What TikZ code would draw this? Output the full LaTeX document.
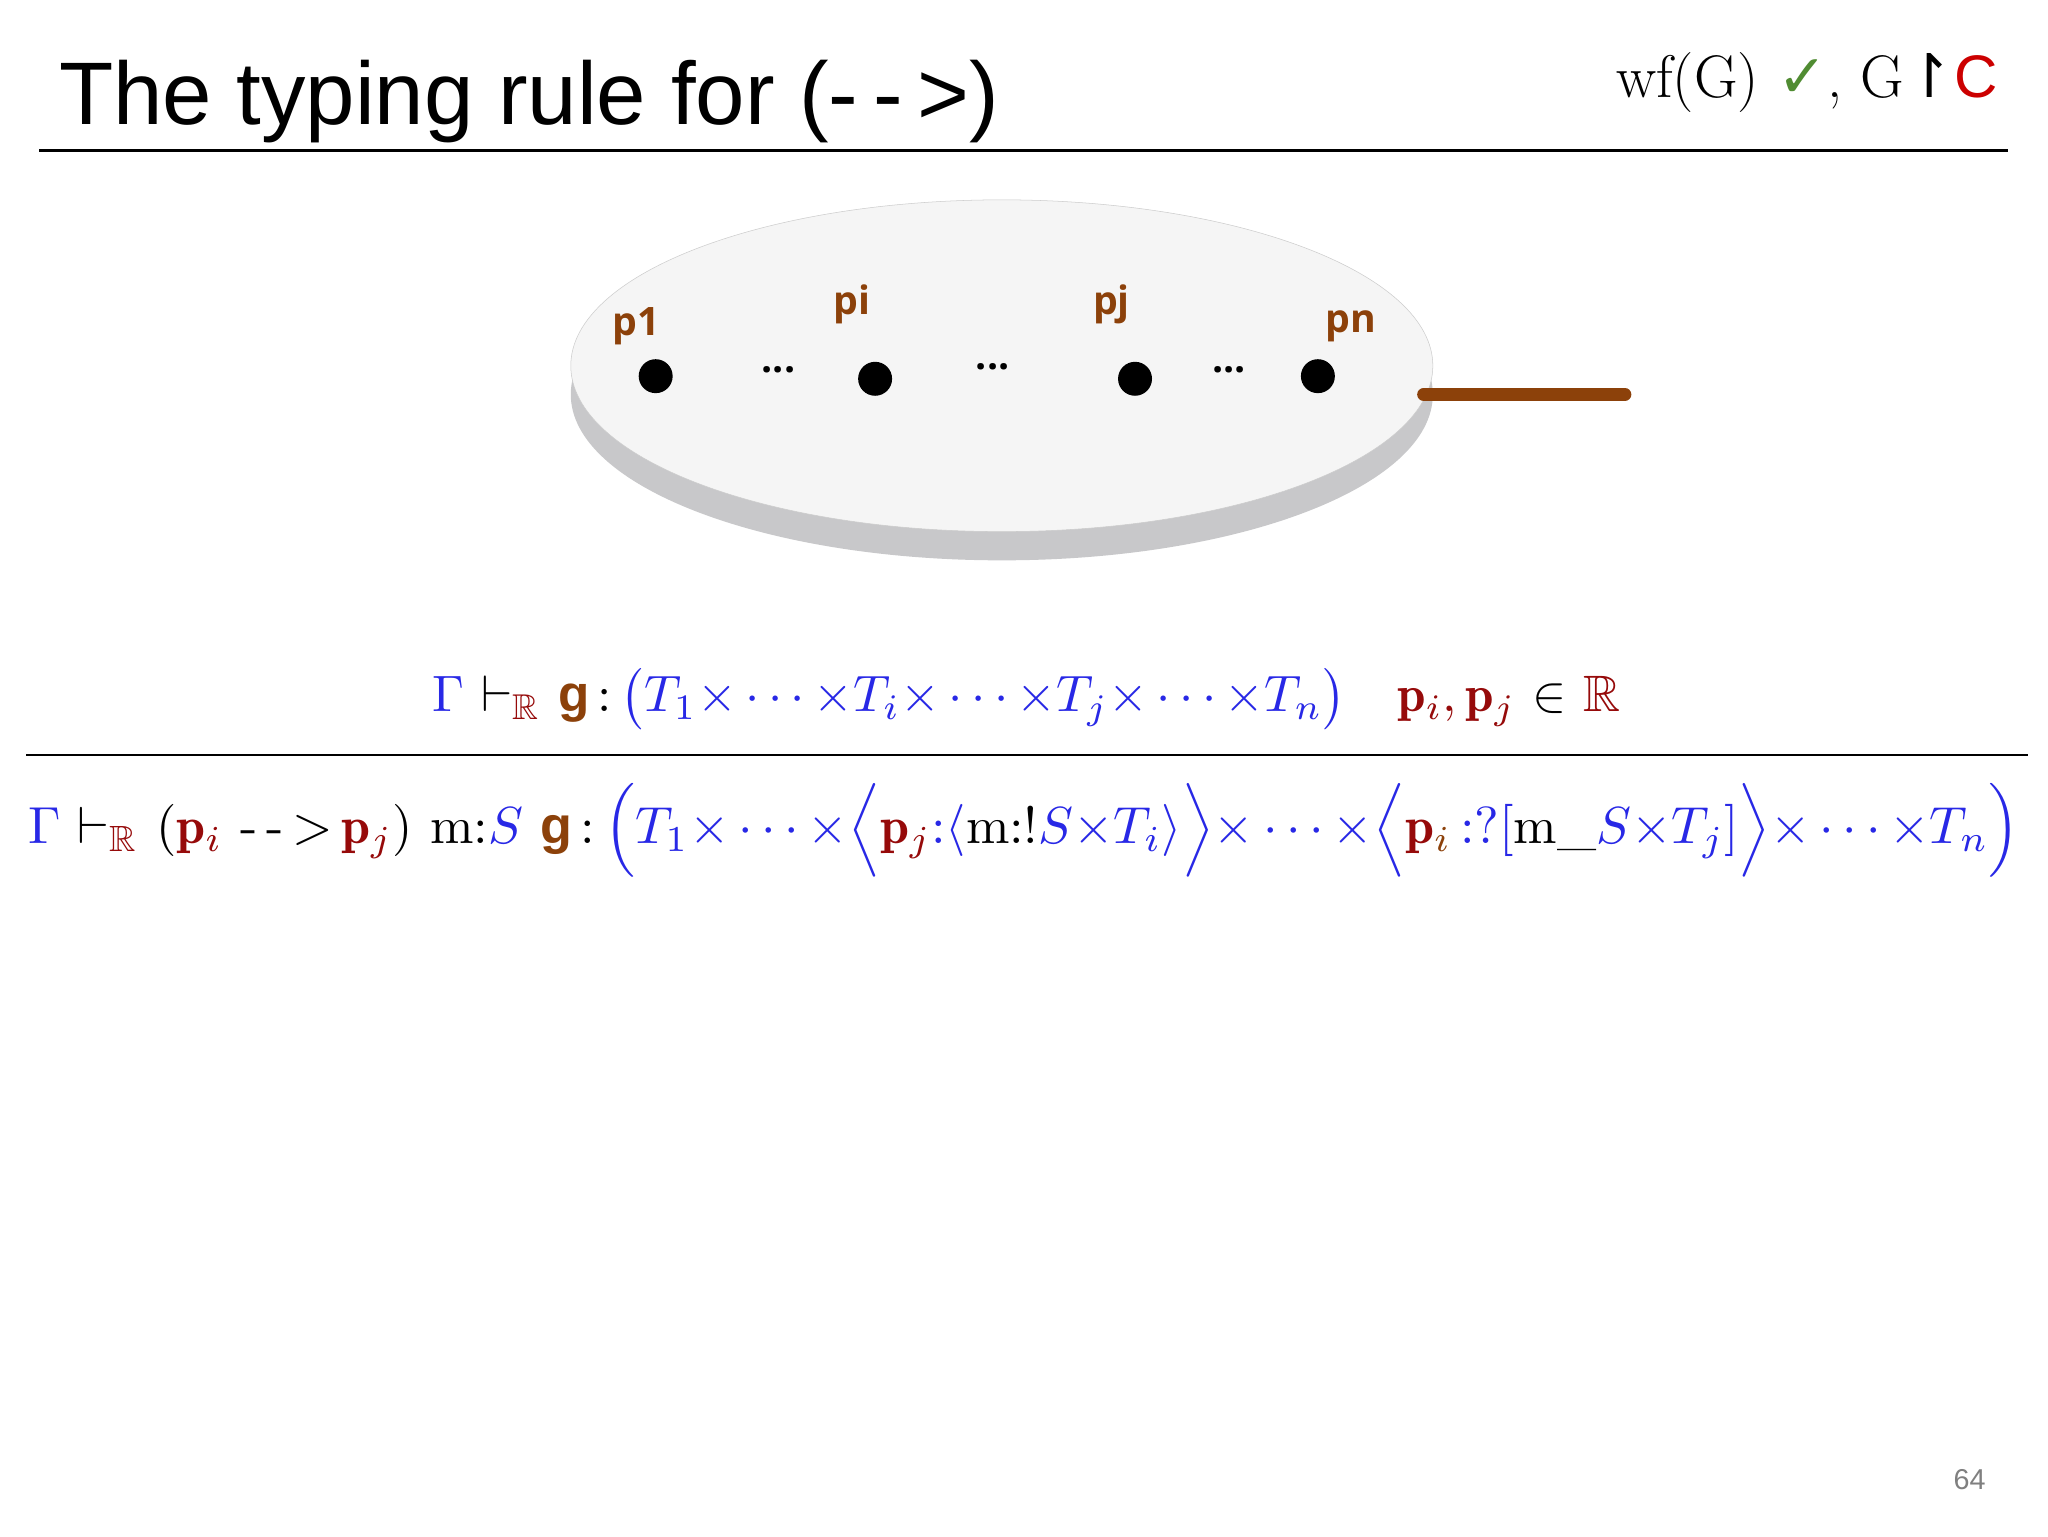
\documentclass[tikz,border=0pt]{standalone}
\usepackage{amsmath,amssymb}
\usepackage{fontspec}
\setsansfont{Liberation Sans}
\newfontfamily\dejavu{DejaVu Sans}
\newfontfamily\openf{Open Sans}
\definecolor{brn}{RGB}{140,65,10}
\definecolor{rbl}{RGB}{40,40,230}
\definecolor{dred}{RGB}{150,10,10}
\definecolor{grn}{RGB}{80,140,50}
\definecolor{gry}{RGB}{200,200,202}
\begin{document}
\begin{tikzpicture}[x=1pt,y=-1pt,
 pdot/.style={circle,fill=black,inner sep=0pt,minimum size=26pt},
 plab/.style={text=brn,font=\openf\bfseries\fontsize{30}{30}\selectfont},
 dts/.style={font=\openf\bfseries\fontsize{30}{30}\selectfont}]
\useasboundingbox (0,0) rectangle (1568,1176);
\fill[white] (0,0) rectangle (1568,1176);
\node[anchor=base west,font=\sffamily\fontsize{68}{68}\selectfont,inner sep=0] (title) at (45,95) {The typing rule for (-\,-\,>)};
\node[anchor=base east,inner sep=0,font=\fontsize{46}{46}\selectfont] (wf) at (1530,75) {wf(G) {\dejavu\color{grn}✓}, G{\dejavu ↾}{\sffamily\color{red!80!black}C}};
\draw[line width=2.5pt] (30,115) -- (1537,115);
\fill[gry] (767,302) ellipse (330 and 127);
\fill[gray!8,draw=gray!40] (767,280) ellipse (330 and 127);
\draw[line width=10pt,brn,line cap=round] (1090,302) -- (1244,302);
\node[pdot] (d1) at (502,288) {};
\node[pdot] (d2) at (670,290) {};
\node[pdot] (d3) at (869,290) {};
\node[pdot] (d4) at (1009,288) {};
\node[plab] (l1) at (487,250) {p1};
\node[plab] (l2) at (652,233) {pi};
\node[plab] (l3) at (851,233) {pj};
\node[plab] (l4) at (1034,250) {pn};
\node[dts] (e1) at (596,283) {...};
\node[dts] (e2) at (760,281) {...};
\node[dts] (e3) at (941,283) {...};
\node[inner sep=0] (prem) at (786,535) {\resizebox{910pt}{!}{$\color{rbl}\Gamma\ {\color{black}\vdash_{\color{dred}\mathbb{R}}}\ {\color{brn}\textsf{\textbf{g}}}\,{\color{black}:}\,\big(T_1{\times}\cdots{\times}T_i{\times}\cdots{\times}T_j{\times}\cdots{\times}T_n\big)\quad {\color{dred}\mathbf{p}_i,\mathbf{p}_j}\ {\color{black}\in}\ {\color{dred}\mathbb{R}}$}};
\draw[line width=1.5pt] (20,578) -- (1553,578);
\node[inner sep=0] (conc) at (784,636) {\resizebox{1525pt}{!}{$\color{rbl}\Gamma\ {\color{black}\vdash_{\color{dred}\mathbb{R}}}\ {\color{black}(}{\color{dred}\mathbf{p}_i}\ {\color{black}\text{-\,-\,>}}\,{\color{dred}\mathbf{p}_j}{\color{black})\ \mathrm{m}{:}}S\ {\color{brn}\textsf{\textbf{g}}}\,{\color{black}:}\,\Big(T_1{\times}\cdots{\times}\Big\langle{\color{dred}\mathbf{p}_j}{:}\langle{\color{black}\mathrm{m}{:}!}S{\times}T_i\rangle\Big\rangle{\times}\cdots{\times}\Big\langle{\color{dred}\mathbf{p}_{\color{brn}i}}\,{:}?[{\color{black}\mathrm{m}\_}S{\times}T_j]\Big\rangle{\times}\cdots{\times}T_n\Big)$}};
\node[text=gray,font=\sffamily\fontsize{22}{22}\selectfont] (pg) at (1508,1133) {64};
\end{tikzpicture}
\end{document}
